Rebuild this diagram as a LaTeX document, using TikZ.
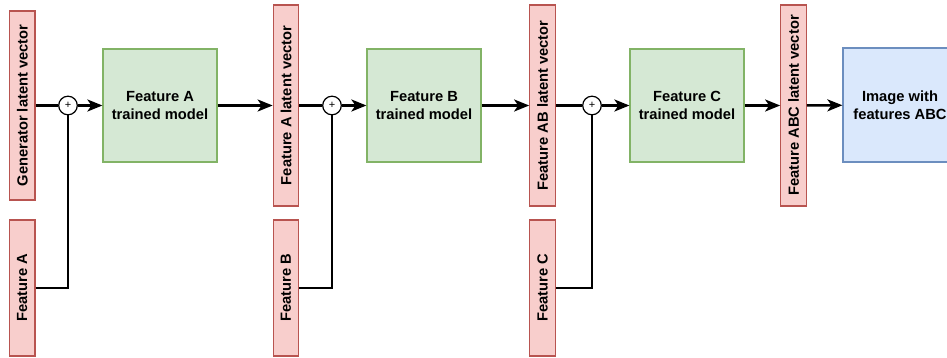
\documentclass[tikz,border=0pt]{standalone}
\usepackage{fontspec}
\setmainfont{Liberation Sans}
\usetikzlibrary{arrows.meta,shapes,positioning}
\definecolor{redfill}{HTML}{F8CECC}
\definecolor{redline}{HTML}{B85450}
\definecolor{greenfill}{HTML}{D5E8D4}
\definecolor{greenline}{HTML}{82B366}
\definecolor{bluefill}{HTML}{DAE8FC}
\definecolor{blueline}{HTML}{6C8EBF}
\tikzset{
  basic/.style    = {draw, line width=1.2pt, inner sep=0pt, align=center,
                     font=\fontsize{14.7}{17.6}\selectfont\bfseries},
  vecbox/.style   = {basic, draw=redline, fill=redfill, rotate=90,
                     minimum height=25.5pt},
  modelbox/.style = {basic, draw=greenline, fill=greenfill,
                     minimum width=114pt, minimum height=113pt},
  outbox/.style   = {basic, draw=blueline, fill=bluefill,
                     minimum width=114pt, minimum height=114pt},
  sumdot/.style   = {circle, draw, fill=white, line width=1.2pt, inner sep=0pt,
                     minimum size=18.6pt, font=\fontsize{11}{11}\selectfont},
  wire/.style     = {line width=2.4pt},
  arr/.style      = {wire, -{Stealth[length=15pt,width=12pt,inset=4pt]}}
}

\begin{document}
\begin{tikzpicture}[x=1pt, y=-1pt]
\useasboundingbox (0,0) rectangle (947,358);

% latent vectors
\node[vecbox, minimum width=189pt] (v0) at (22.25,105.5) {Generator latent vector};
\node[vecbox, minimum width=201pt] (v1) at (286,105.5) {Feature A latent vector};
\node[vecbox, minimum width=201pt] (v2) at (542.5,105.5) {Feature AB latent vector};
\node[vecbox, minimum width=201pt] (v3) at (793.5,105.5) {Feature ABC latent vector};

% features fed in from below
\begin{scope}[every node/.style={vecbox, minimum width=136pt}]
\node (f1) at (22.25,288) {Feature A};
\node (f2) at (286,288) {Feature B};
\node (f3) at (542.5,288) {Feature C};
\end{scope}

% sums
\node[sumdot] (s1) at (68,105.5) {+};
\node[sumdot] (s2) at (332,105.5) {+};
\node[sumdot] (s3) at (592,105.5) {+};

% trained models
\node[modelbox] (m1) at (160,105.5) {Feature A\\trained model};
\node[modelbox] (m2) at (424,105.5) {Feature B\\trained model};
\node[modelbox] (m3) at (687,105.5) {Feature C\\trained model};

\node[outbox] (img) at (900,105) {Image with\\features ABC};

\foreach \i [evaluate=\i as \j using int(\i-1)] in {1,...,3} {
  \draw[wire] (v\j) -- (s\i);
  \draw[wire] (f\i) -| (s\i);
  \draw[arr] (s\i) -- (m\i);
  \draw[arr] (m\i) -- (v\i);
}
\draw[arr] (v3) -- (img);
\end{tikzpicture}
\end{document}
